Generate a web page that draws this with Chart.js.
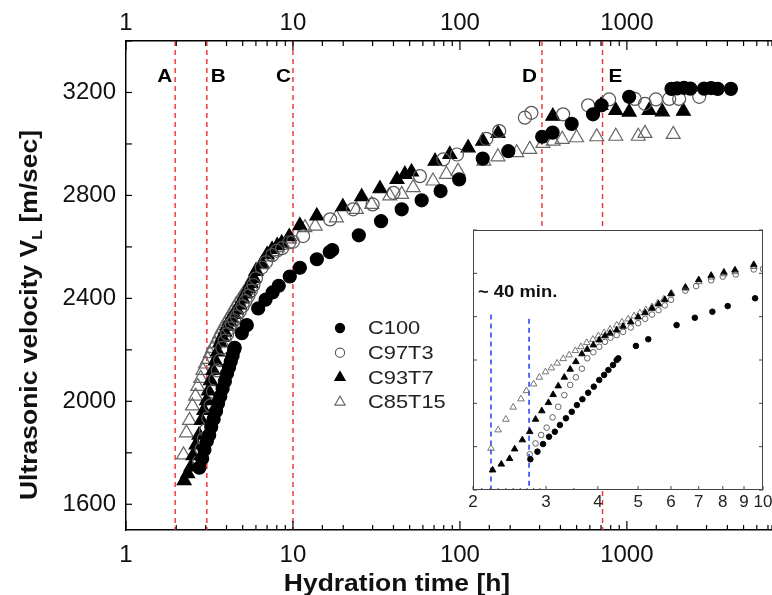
<!DOCTYPE html>
<html>
<head>
<meta charset="utf-8">
<script src="https://cdn.jsdelivr.net/npm/chart.js@4.4.0/dist/chart.umd.min.js"></script>
<style>
  html, body { margin: 0; padding: 0; background: #fff; }
  #wrap { position: relative; width: 772px; height: 595px; overflow: hidden; background: #fff; }
  #main { position: absolute; left: 0; top: 0; }
  #inset { position: absolute; left: 458px; top: 222px; }
</style>
</head>
<body>
<div id="wrap">
  <canvas id="main" width="772" height="595"></canvas>
  <canvas id="inset" width="314" height="290"></canvas>
</div>
<script>
// hydration time [h] and longitudinal velocity [m/s]
const c100T = [2.75, 2.86, 2.95, 3.05, 3.15, 3.24, 3.35, 3.46, 3.56, 3.67, 3.79, 3.91, 4.03, 4.14, 4.24, 4.35, 4.44, 4.48,
  4.94, 5.29, 6.19, 6.85, 7.55, 8.22, 9.57, 11.0, 13.9, 16.6, 17.2, 24.8, 33.7, 44.8, 59, 76.6, 99, 137, 195, 311, 359,
  467, 627, 705, 1032, 1850, 2000, 2200, 2400, 2900, 3200, 3500, 4200];
const c100V = [1742, 1777, 1812, 1846, 1869, 1900, 1931, 1961, 1992, 2019, 2049, 2077, 2108, 2131, 2154, 2177, 2200, 2208,
  2265, 2296, 2361, 2395, 2423, 2449, 2485, 2519, 2552, 2580, 2588, 2645, 2700, 2746, 2781, 2817, 2862, 2943, 2972, 3028, 3044,
  3078, 3115, 3150, 3183, 3214, 3216, 3218, 3215, 3215, 3217, 3214, 3214];

const c97T = [2.74, 2.83, 2.92, 3.01, 3.11, 3.21, 3.32, 3.43, 3.54, 3.66, 3.77, 3.90, 4.03, 4.16, 4.29, 4.44, 4.6, 4.8, 5.0,
  5.2, 5.4, 5.6, 5.8, 6.0, 6.5, 6.9, 7.5, 8.0, 8.6, 9.5, 10.0, 11.5, 16.7, 22.9, 30, 40, 57.6, 79.5, 96, 144, 172, 245, 268,
  415, 586, 783, 1116, 1283, 1493, 1792, 2056, 2712];
const c97V = [1765, 1815, 1854, 1888, 1935, 1984, 2038, 2085, 2120, 2160, 2208, 2236, 2261, 2284, 2303, 2315, 2330, 2350, 2370,
  2390, 2410, 2430, 2452, 2478, 2520, 2541, 2568, 2585, 2595, 2618, 2620, 2642, 2707, 2746, 2765, 2810, 2875, 2940, 2959, 3020, 3050, 3102, 3121,
  3115, 3150, 3173, 3175, 3156, 3173, 3175, 3175, 3183];

const c93T = [2.23, 2.34, 2.45, 2.52, 2.63, 2.74, 2.83, 2.93, 3.04, 3.12, 3.21, 3.32, 3.43, 3.54, 3.66, 3.77, 3.90, 4.03, 4.16,
  4.28, 4.44, 4.6, 4.8, 5.0, 5.2, 5.4, 5.6, 5.8, 6.0, 6.5, 7.0, 7.5, 8.05, 8.56, 9.5, 11.0, 13.9, 19.9, 25.8, 33.2, 42, 46.8,
  51.3, 71, 87, 112, 137, 169, 360, 700, 858, 1032, 1360, 1630, 2180];
const c93V = [1692, 1719, 1745, 1789, 1831, 1869, 1926, 1965, 2003, 2040, 2080, 2120, 2157, 2192, 2228, 2249, 2269, 2292, 2311,
  2323, 2338, 2355, 2375, 2398, 2418, 2438, 2458, 2478, 2505, 2535, 2570, 2590, 2605, 2615, 2640, 2683, 2720, 2756, 2795, 2826, 2862, 2882,
  2891, 2933, 2959, 2985, 3011, 3041, 3108, 3150, 3130, 3124, 3130, 3125, 3127];

const c85T = [2.21, 2.30, 2.40, 2.50, 2.61, 2.69, 2.80, 2.89, 2.99, 3.09, 3.19, 3.30, 3.41, 3.53, 3.64, 3.76, 3.89, 4.01, 4.14,
  4.28, 4.44, 4.57, 4.73, 4.89, 5.05, 5.22, 5.40, 5.58, 5.77, 6.02, 6.52, 7.01, 7.52, 8.05, 8.56, 9.51, 11.8, 13.6, 18.2, 24,
  29.6, 38, 44.8, 52.5, 69, 83, 97.5, 139, 169, 219, 262, 314, 362, 410, 500, 660, 858, 1170, 1283, 1895];
const c85V = [1792, 1877, 1926, 1982, 2020, 2058, 2089, 2120, 2145, 2163, 2185, 2206, 2223, 2243, 2261, 2280, 2295, 2311, 2326,
  2342, 2361, 2375, 2389, 2403, 2417, 2431, 2445, 2463, 2481, 2508, 2531, 2561, 2582, 2597, 2607, 2631, 2675, 2681, 2713, 2746,
  2765, 2798, 2804, 2830, 2856, 2882, 2894, 2933, 2950, 2966, 2979, 3002, 3011, 3018, 3024, 3028, 3030, 3030, 3041, 3037];

const seriesNames = ['C100', 'C97T3', 'C93T7', 'C85T15'];

// stage markers (red dashed lines) and the inset's ~40 min window (blue)
const stageTimes = [1.97, 3.05, 10, 310, 715];
const stageLabels = ['A', 'B', 'C', 'D', 'E'];
const stageLineEnds = [null, null, null, 2665, null]; // D stops at the inset
const windowTimes = [2.21, 2.73];
const windowTops = [2410, 2390];

// axis ranges / ticks
const mainTimeRange = [1, 7400];
const mainVelRange = [1500, 3400];
const insetTimeRange = [2, 10];
const insetVelRange = [1600, 2800];
const velStep = 200;
const velLabelStep = 400;

const FONT = "'Liberation Sans', Arial, sans-serif";
const STRETCH = 1.15; // the source figure's text is a bit wide

function points(ts, vs) {
  return ts.map((t, i) => ({ x: t, y: vs[i] }));
}

const styles = [
  { pointStyle: 'circle', fill: '#000', stroke: '#000' },
  { pointStyle: 'circle', fill: 'rgba(255,255,255,0)', stroke: '#555' },
  { pointStyle: 'triangle', fill: '#000', stroke: '#000' },
  { pointStyle: 'triangle', fill: 'rgba(255,255,255,0)', stroke: '#666' }
];
const seriesT = [c100T, c97T, c93T, c85T];
const seriesV = [c100V, c97V, c93V, c85V];

function makeDatasets(circleR, triR, bw) {
  return seriesNames.map((name, i) => ({
    label: name,
    data: points(seriesT[i], seriesV[i]),
    pointStyle: styles[i].pointStyle,
    pointRadius: styles[i].pointStyle === 'circle' ? circleR : triR,
    backgroundColor: styles[i].fill,
    borderColor: styles[i].stroke,
    borderWidth: bw
  }));
}

function isWhole(v, tol) {
  return Math.abs(v - Math.round(v)) < tol;
}

function powerLabel(v) {
  return isWhole(Math.log10(v), 1e-6) ? String(Math.round(v)) : '';
}

// no extra edge padding so the plot area spans the full width
function noPad(s) {
  s.paddingLeft = 0;
  s.paddingRight = 0;
}

// text drawn slightly wider than the font, aligned like fillText
function wideText(ctx, text, x, y, align) {
  const w = ctx.measureText(text).width * STRETCH;
  let left = x;
  if (align === 'center') left = x - w / 2;
  if (align === 'right') left = x - w;
  ctx.save();
  ctx.textAlign = 'left';
  ctx.translate(left, y);
  ctx.scale(STRETCH, 1);
  ctx.fillText(text, 0, 0);
  ctx.restore();
  return w;
}

// inward tick marks for every scale tick
const inTicks = {
  id: 'inTicks',
  afterDraw(chart, args, opts) {
    const ctx = chart.ctx;
    const a = chart.chartArea;
    ctx.save();
    ctx.strokeStyle = opts.color || '#000';
    ctx.lineWidth = opts.width || 1.2;
    Object.values(chart.scales).forEach(s => {
      const conf = opts[s.id];
      if (!conf) return;
      s.ticks.forEach(t => {
        const major = t.label !== '' && t.label !== undefined;
        const len = major ? conf[0] : conf[1];
        const p = s.getPixelForValue(t.value);
        ctx.beginPath();
        if (s.position === 'bottom') { ctx.moveTo(p, a.bottom); ctx.lineTo(p, a.bottom - len); }
        if (s.position === 'top') { ctx.moveTo(p, a.top); ctx.lineTo(p, a.top + len); }
        if (s.position === 'left') {
          ctx.moveTo(a.left, p); ctx.lineTo(a.left + len, p);
          if (conf[2]) { ctx.moveTo(a.right, p); ctx.lineTo(a.right - len, p); }
        }
        ctx.stroke();
      });
    });
    ctx.restore();
  }
};

const mainDecor = {
  id: 'mainDecor',
  beforeDatasetsDraw(chart) {
    const ctx = chart.ctx;
    const a = chart.chartArea;
    const xs = chart.scales.x, ys = chart.scales.y;
    ctx.save();
    ctx.strokeStyle = '#f03030';
    ctx.lineWidth = 1.4;
    ctx.setLineDash([5, 4]);
    stageTimes.forEach((t, i) => {
      const px = xs.getPixelForValue(t);
      const end = stageLineEnds[i] === null ? a.bottom : ys.getPixelForValue(stageLineEnds[i]);
      ctx.beginPath();
      ctx.moveTo(px, a.top);
      ctx.lineTo(px, end);
      ctx.stroke();
    });
    ctx.setLineDash([]);
    ctx.fillStyle = '#000';
    ctx.font = 'bold 18px ' + FONT;
    ctx.textBaseline = 'middle';
    const dx = [-3, 4, -2, -5, 6];
    stageLabels.forEach((lab, i) => {
      const px = xs.getPixelForValue(stageTimes[i]);
      wideText(ctx, lab, px + dx[i], a.top + 36, dx[i] < 0 ? 'right' : 'left');
    });
    ctx.restore();
  },
  afterDraw(chart) {
    const ctx = chart.ctx;
    const a = chart.chartArea;
    ctx.save();
    // legend
    const lx = a.left + 214, ly = a.top + 287, gap = 24.7;
    ctx.font = '19px ' + FONT;
    ctx.textBaseline = 'middle';
    seriesNames.forEach((name, i) => {
      const y = ly + i * gap;
      ctx.beginPath();
      if (styles[i].pointStyle === 'circle') {
        ctx.arc(lx, y, 4.6, 0, Math.PI * 2);
      } else {
        const r = 6;
        ctx.moveTo(lx, y - r);
        ctx.lineTo(lx + r * 0.866, y + r * 0.5);
        ctx.lineTo(lx - r * 0.866, y + r * 0.5);
        ctx.closePath();
      }
      ctx.fillStyle = styles[i].fill;
      ctx.fill();
      ctx.strokeStyle = styles[i].stroke;
      ctx.lineWidth = 1.1;
      ctx.stroke();
      ctx.fillStyle = '#222';
      wideText(ctx, name, lx + 28, y + 1, 'left');
    });
    // axis titles
    ctx.fillStyle = '#111';
    ctx.font = 'bold 23px ' + FONT;
    ctx.textBaseline = 'alphabetic';
    wideText(ctx, 'Hydration time [h]', 397, 591, 'center');

    ctx.translate(37, 315);
    ctx.rotate(-Math.PI / 2);
    const big = 'bold 23px ' + FONT, small = 'bold 14px ' + FONT;
    const p1 = 'Ultrasonic velocity V', p2 = 'L', p3 = ' [m/sec]';
    ctx.font = big; const w1 = ctx.measureText(p1).width * STRETCH, w3 = ctx.measureText(p3).width * STRETCH;
    ctx.font = small; const w2 = ctx.measureText(p2).width * STRETCH;
    const x0 = -(w1 + w2 + w3) / 2;
    ctx.font = big; wideText(ctx, p1, x0, 0, 'left');
    ctx.font = small; wideText(ctx, p2, x0 + w1, 5, 'left');
    ctx.font = big; wideText(ctx, p3, x0 + w1 + w2, 0, 'left');
    ctx.restore();
  }
};

const tickFont = { family: FONT, size: 24 };

new Chart(document.getElementById('main'), {
  type: 'scatter',
  data: { datasets: makeDatasets(6.5, 8, 1.2) },
  options: {
    responsive: false,
    animation: false,
    events: [],
    layout: { padding: 0, autoPadding: false },
    scales: {
      x: {
        type: 'logarithmic', position: 'bottom', min: mainTimeRange[0], max: mainTimeRange[1],
        grid: { display: false, drawTicks: false },
        border: { display: true, color: '#000', width: 1.5 },
        ticks: { autoSkip: false, maxRotation: 0, padding: 11, font: tickFont, color: '#111', callback: powerLabel },
        afterFit: s => { s.height = 65; noPad(s); }
      },
      x2: {
        type: 'logarithmic', position: 'top', min: mainTimeRange[0], max: mainTimeRange[1],
        grid: { display: false, drawTicks: false },
        border: { display: true, color: '#000', width: 1.5 },
        ticks: { autoSkip: false, maxRotation: 0, padding: 3, font: tickFont, color: '#111', callback: powerLabel },
        afterFit: s => { s.height = 41; noPad(s); }
      },
      y: {
        type: 'linear', position: 'left', min: mainVelRange[0], max: mainVelRange[1],
        grid: { display: false, drawTicks: false },
        border: { display: true, color: '#000', width: 1.5 },
        ticks: {
          stepSize: velStep, includeBounds: false, padding: 10, font: tickFont, color: '#111',
          callback: v => (v % velLabelStep === 0 ? String(v) : '')
        },
        afterFit: s => { s.width = 126; s.paddingTop = 0; s.paddingBottom = 0; }
      }
    },
    plugins: {
      legend: { display: false },
      tooltip: { enabled: false },
      inTicks: { x: [9, 5], x2: [9, 5], y: [6, 6] }
    }
  },
  plugins: [mainDecor, inTicks]
});

const insetDecor = {
  id: 'insetDecor',
  beforeDraw(chart) {
    const ctx = chart.ctx;
    const a = chart.chartArea;
    ctx.save();
    ctx.fillStyle = '#fff';
    ctx.fillRect(a.left, a.top, a.right - a.left, a.bottom - a.top);
    ctx.restore();
  },
  beforeDatasetsDraw(chart) {
    const ctx = chart.ctx;
    const a = chart.chartArea;
    const xs = chart.scales.x, ys = chart.scales.y;
    ctx.save();
    ctx.strokeStyle = '#2f45ff';
    ctx.lineWidth = 1.6;
    ctx.setLineDash([5, 4]);
    windowTimes.forEach((t, i) => {
      const px = xs.getPixelForValue(t);
      ctx.beginPath();
      ctx.moveTo(px, ys.getPixelForValue(windowTops[i]));
      ctx.lineTo(px, a.bottom);
      ctx.stroke();
    });
    ctx.setLineDash([]);
    ctx.fillStyle = '#111';
    ctx.font = 'bold 16px ' + FONT;
    ctx.textBaseline = 'middle';
    wideText(ctx, '~ 40 min.', a.left + 5, a.top + 63, 'left');
    ctx.restore();
  },
  afterDraw(chart) {
    const ctx = chart.ctx;
    const a = chart.chartArea;
    ctx.save();
    ctx.strokeStyle = '#444';
    ctx.lineWidth = 1;
    ctx.strokeRect(a.left + 0.5, a.top + 0.5, a.right - a.left - 1, a.bottom - a.top - 1);
    ctx.restore();
  }
};

new Chart(document.getElementById('inset'), {
  type: 'scatter',
  data: { datasets: makeDatasets(2.8, 3.8, 0.9) },
  options: {
    responsive: false,
    animation: false,
    events: [],
    layout: { padding: { left: 15, top: 8, right: 9, bottom: 0 }, autoPadding: false },
    scales: {
      x: {
        type: 'logarithmic', position: 'bottom', min: insetTimeRange[0], max: insetTimeRange[1],
        grid: { display: false, drawTicks: false },
        border: { display: false },
        ticks: { autoSkip: false, maxRotation: 0, padding: 2, font: { family: FONT, size: 17 }, color: '#222',
          callback: v => (isWhole(v, 1e-6) ? String(Math.round(v)) : '') },
        afterFit: s => { s.height = 22; noPad(s); }
      },
      y: {
        type: 'linear', position: 'left', min: insetVelRange[0], max: insetVelRange[1],
        grid: { display: false, drawTicks: false },
        border: { display: false },
        ticks: { stepSize: velStep, display: false },
        afterFit: s => { s.width = 0; }
      }
    },
    plugins: {
      legend: { display: false },
      tooltip: { enabled: false },
      inTicks: { color: '#444', width: 1, x: [4, 2], y: [4, 4, true] }
    }
  },
  plugins: [insetDecor, inTicks]
});
</script>
</body>
</html>
